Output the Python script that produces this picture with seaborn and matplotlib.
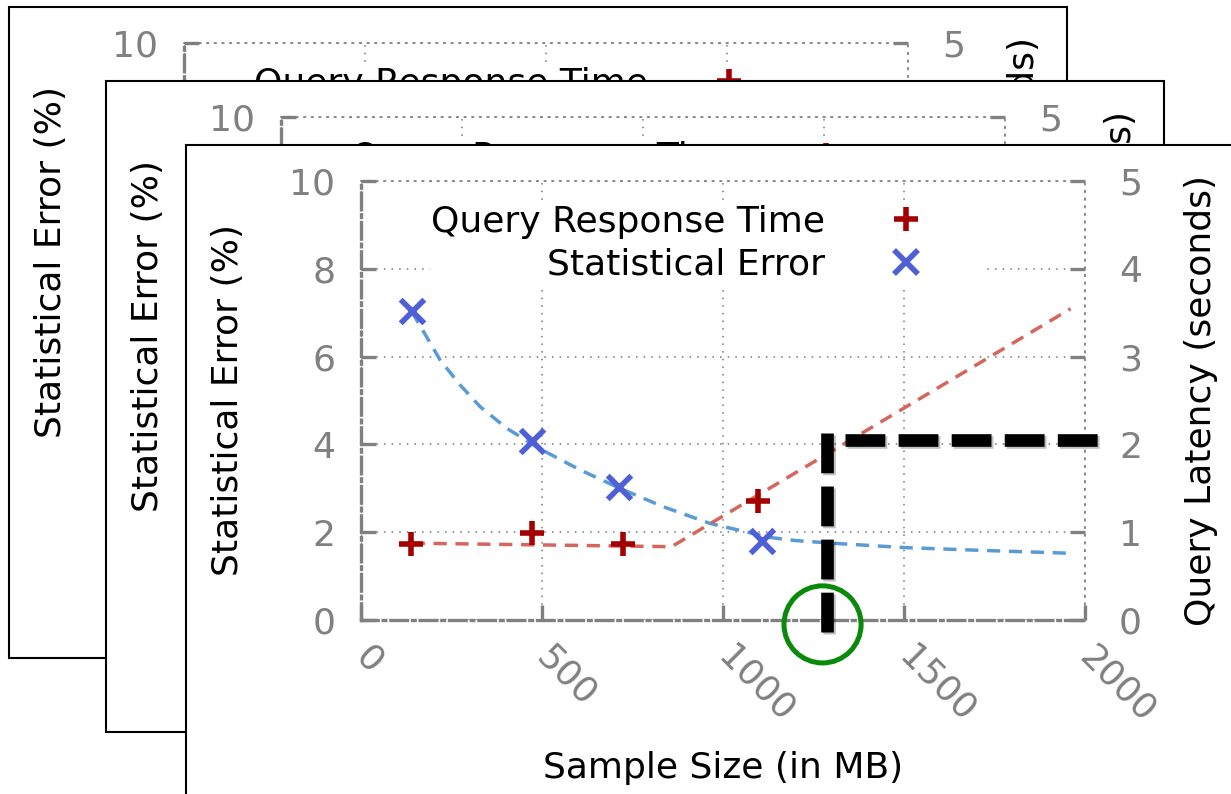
import matplotlib
matplotlib.use("Agg")
import matplotlib.pyplot as plt
import seaborn as sns
from matplotlib.patches import Rectangle, Ellipse
from matplotlib.lines import Line2D
import matplotlib.patheffects as pe

# ---------------- data ----------------
sample_sizes_latency = [138, 471, 723, 1096]
latency_seconds = [0.86, 0.99, 0.86, 1.36]
sample_sizes_error = [140, 473, 714, 1107]
error_percent = [7.03, 4.08, 3.04, 1.79]

latency_fit_sizes = [140, 858, 1960]
latency_fit = [0.875, 0.835, 3.545]
error_fit_sizes = [140, 218, 273, 329, 402, 494, 605, 715, 835, 964, 1130, 1200, 1300, 1500, 1700, 1960]
error_fit = [7.03, 5.93, 5.36, 4.86, 4.37, 3.90, 3.42, 3.00, 2.58, 2.20, 1.88, 1.81, 1.75, 1.65, 1.59, 1.52]

x_ticks = [0, 500, 1000, 1500, 2000]
error_ticks = [0, 2, 4, 6, 8, 10]
latency_ticks = [0, 1, 2, 3, 4, 5]

budget_size = 1287
budget_latency = 2.055
budget_vertical_span = [-0.137, 2.132]
budget_horizontal_span = [1337, 2039]
circle_center = (1275, -0.05)
circle_size = (213, 0.878)

legend_labels = ["Query Response Time", "Statistical Error"]
xlabel = "Sample Size (in MB)"
ylabel_left = "Statistical Error (%)"
ylabel_right = "Query Latency (seconds)"

# card top-left corners (pixels), back to front
card_origins = [(9, 7), (106, 81), (186, 145)]

# ---------------- style ----------------
sns.set_theme(style="white")
plt.rcParams["font.family"] = ["DejaVu Sans"]
plt.rcParams["text.color"] = "black"

W, H = 1231, 794
CARD_W, CARD_H = 1058, 651
AX_DX, AX_DY, AX_W, AX_H = 175, 36, 724, 439
GREY = "#808080"
GRID = "#777777"
RED_LINE = "#d4665e"
RED_MARK = "#a50000"
BLUE_LINE = "#5b9bd5"
BLUE_MARK = "#4f5fd5"
FS = 26

fig = plt.figure(figsize=(W / 100, H / 100), dpi=100)
fig.patch.set_facecolor("white")


def draw_card(ox, oy, z):
    card = Rectangle((ox / W, 1 - (oy + CARD_H) / H), CARD_W / W, CARD_H / H,
                     transform=fig.transFigure, facecolor="white",
                     edgecolor="black", linewidth=1.5, zorder=z)
    fig.add_artist(card)
    axl, axt = ox + AX_DX, oy + AX_DY
    ax = fig.add_axes([axl / W, 1 - (axt + AX_H) / H, AX_W / W, AX_H / H], zorder=z + 0.1)
    ax2 = ax.twinx()
    ax2.set_zorder(z + 0.2)
    ax.patch.set_facecolor("white")

    # series
    sns.lineplot(x=error_fit_sizes, y=error_fit, ax=ax, color=BLUE_LINE,
                 linewidth=2.5, linestyle=(0, (3.8, 2.5)), sort=False, zorder=3)
    sns.scatterplot(x=sample_sizes_error, y=error_percent, ax=ax, marker="x",
                    s=290, linewidth=4.0, color=BLUE_MARK, zorder=4)
    sns.lineplot(x=latency_fit_sizes, y=latency_fit, ax=ax2, color=RED_LINE,
                 linewidth=2.5, linestyle=(0, (3.8, 2.5)), sort=False, zorder=3)
    sns.scatterplot(x=sample_sizes_latency, y=latency_seconds, ax=ax2, marker="+",
                    s=300, linewidth=4.0, color=RED_MARK, zorder=4)

    # budget lines
    shadow = [pe.SimpleLineShadow(offset=(1.5, -1.5), shadow_color="black", alpha=0.25), pe.Normal()]
    ax2.plot([budget_size, budget_size], budget_vertical_span, color="black",
             linewidth=9.1, linestyle=(0, (3.15, 1.05)), solid_capstyle="butt",
             dash_capstyle="butt", clip_on=False, zorder=6, path_effects=shadow)
    ax2.plot(budget_horizontal_span, [budget_latency, budget_latency], color="black",
             linewidth=9.1, linestyle=(0, (3.15, 1.05)), solid_capstyle="butt",
             dash_capstyle="butt", clip_on=False, zorder=6, path_effects=shadow)
    ax2.add_patch(Ellipse(circle_center, circle_size[0], circle_size[1], fill=False,
                          edgecolor="#0a8a0a", linewidth=3.6, clip_on=False, zorder=7))

    # limits & ticks
    ax.set_xlim(0, 2000)
    ax.set_ylim(0, 10)
    ax2.set_ylim(0, 5)
    ax.set_xticks(x_ticks)
    ax.set_yticks(error_ticks)
    ax2.set_yticks(latency_ticks)
    ax.set_xticklabels([str(v) for v in x_ticks])
    ax.set_yticklabels([str(v) for v in error_ticks])
    ax2.set_yticklabels([str(v) for v in latency_ticks])

    ax.tick_params(axis="x", direction="in", length=11, width=2.4, color=GREY,
                   labelcolor=GREY, labelsize=FS, pad=23, bottom=True, top=False)
    ax.tick_params(axis="y", direction="in", length=11, width=2.4, color=GREY,
                   labelcolor=GREY, labelsize=FS, pad=18.4, left=True, right=False)
    ax2.tick_params(axis="y", direction="in", length=11, width=2.4, color=GREY,
                    labelcolor=GREY, labelsize=FS, pad=24.5, right=True, left=False)
    for lbl in ax.get_xticklabels():
        lbl.set_rotation(-45)
        lbl.set_ha("left")
        lbl.set_va("center")
        lbl.set_rotation_mode("anchor")

    # grid & spines
    ax.grid(True, color=GRID, linestyle=(0, (1, 4)), linewidth=1.1)
    ax.set_axisbelow(True)
    for side in ["left", "bottom"]:
        ax.spines[side].set_color(GREY)
        ax.spines[side].set_linewidth(2.4)
        ax.spines[side].set_linestyle((0, (5, 1.5, 0.8, 1.5)))
    for side in ["top", "right"]:
        ax.spines[side].set_color(GRID)
        ax.spines[side].set_linewidth(1.1)
        ax.spines[side].set_linestyle((0, (1, 4)))
    for side in ax2.spines:
        ax2.spines[side].set_visible(False)

    # labels
    ax.set_xlabel(xlabel, fontsize=FS, color="black")
    ax.set_ylabel(ylabel_left, fontsize=FS, color="black")
    ax2.set_ylabel(ylabel_right, fontsize=FS, color="black", rotation=90)
    ax.xaxis.set_label_coords(0.5, -0.337)
    ax.xaxis.label.set_va("center")
    ax.yaxis.set_label_coords(-0.1837, 0.5)
    ax.yaxis.label.set_va("center")
    ax2.yaxis.set_label_coords(1.160, 0.5)
    ax2.yaxis.label.set_va("center")

    # legend
    handles = [
        Line2D([], [], linestyle="", marker="+", color=RED_MARK, markersize=17.3, markeredgewidth=4.0),
        Line2D([], [], linestyle="", marker="x", color=BLUE_MARK, markersize=17.0, markeredgewidth=4.0),
    ]
    ax2.legend(handles, legend_labels, loc="upper right", bbox_to_anchor=(0.863, 0.950),
               bbox_transform=ax2.transAxes, markerfirst=False, frameon=True,
               facecolor="white", edgecolor="none", framealpha=1, fancybox=False,
               borderpad=0.05, borderaxespad=0, labelspacing=0.25, handlelength=4.33,
               handletextpad=0.06, fontsize=FS, labelcolor="black")
    return ax, ax2


for i, (ox, oy) in enumerate(card_origins):
    draw_card(ox, oy, 1 + i)

fig.savefig("out.png", dpi=100, facecolor="white")
